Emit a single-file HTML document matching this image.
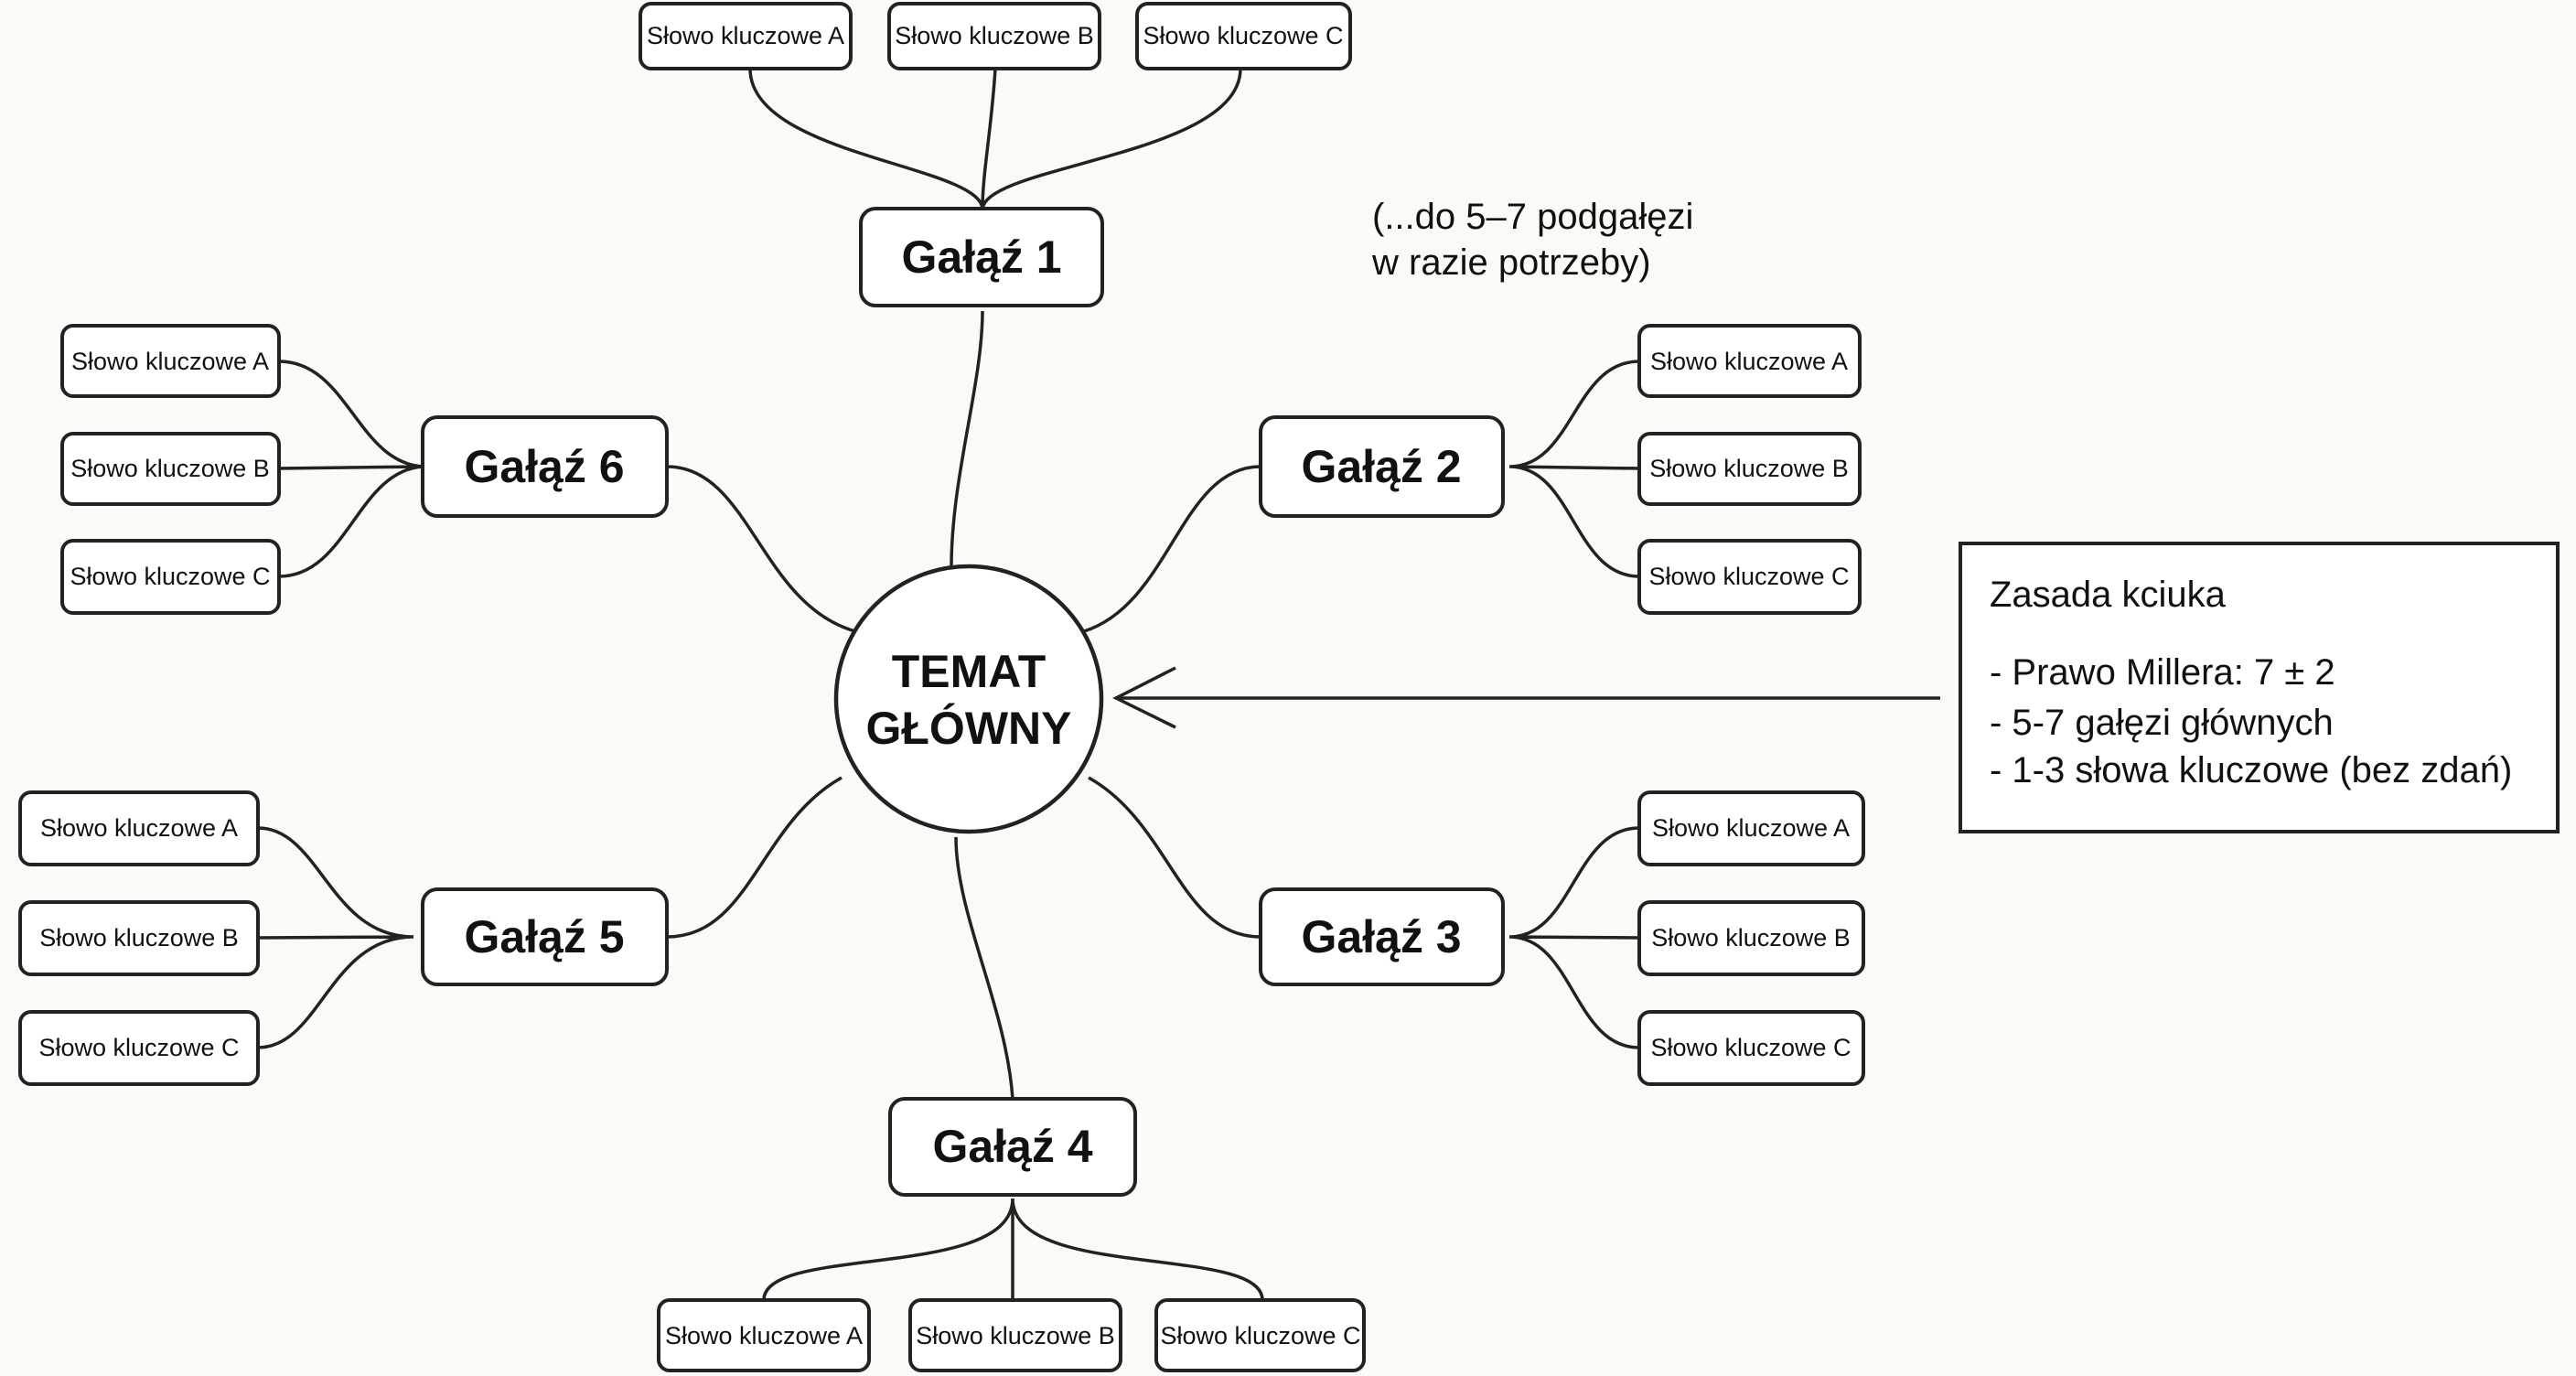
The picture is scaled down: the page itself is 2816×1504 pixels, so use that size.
<!DOCTYPE html>
<html><head><meta charset="utf-8"><style>
html,body{margin:0;padding:0;background:#fafaf7;}
svg{display:block}
text{font-family:"Liberation Sans","DejaVu Sans",sans-serif;fill:#111;}
.k{font-size:27px;text-anchor:middle;dominant-baseline:central}
.g{font-size:50px;font-weight:bold;text-anchor:middle;dominant-baseline:central}
.n{font-size:40px}
rect{fill:#fff;stroke:#222;stroke-width:4}
path{fill:none;stroke:#222;stroke-width:3.5}
</style></head><body>
<svg width="2816" height="1504" viewBox="0 0 2816 1504">
<!-- connectors -->
<path d="M820 75 C820 170 1070 180 1074 228 M1088 75 C1084 140 1074 190 1074 228 M1356 75 C1356 170 1080 180 1074 228"/>
<path d="M1074 340 C1074 420 1040 520 1040 620"/>
<!-- G6 -->
<path d="M305 395 C380 395 390 505 462 510 M305 512 L462 510 M305 630 C380 630 390 515 462 510"/>
<path d="M729 510 C820 510 830 660 935 690"/>
<!-- G2 -->
<path d="M1650 510 C1720 510 1720 395 1792 395 M1650 510 L1792 512 M1650 510 C1720 510 1720 630 1792 630"/>
<path d="M1378 510 C1290 510 1280 660 1185 690"/>
<!-- G5 -->
<path d="M282 905 C350 905 360 1024 452 1024 M282 1025 L452 1024 M282 1145 C350 1145 360 1024 452 1024"/>
<path d="M729 1024 C820 1024 830 900 920 850"/>
<!-- G3 -->
<path d="M1650 1024 C1720 1024 1720 905 1792 905 M1650 1024 L1792 1025 M1650 1024 C1720 1024 1720 1145 1792 1145"/>
<path d="M1378 1024 C1290 1024 1280 900 1190 850"/>
<!-- G4 -->
<path d="M1045 915 C1045 1000 1100 1100 1107 1201"/>
<path d="M1107 1310 C1107 1400 835 1360 835 1421 M1107 1310 L1107 1421 M1107 1310 C1107 1400 1380 1360 1380 1421"/>
<!-- arrow -->
<path d="M2121 763 L1222 763 M1285 730 L1220 763 L1285 795" stroke-width="4"/>
<!-- circle -->
<circle cx="1059" cy="764" r="145" fill="#fff" stroke="#222" stroke-width="4.5"/>
<text class="g" x="1059" y="734">TEMAT</text>
<text class="g" x="1059" y="796">GŁÓWNY</text>
<!-- branches -->
<rect x="941" y="228" width="264" height="106" rx="16"/><text class="g" x="1073" y="281">Gałąź 1</text>
<rect x="1378" y="456" width="265" height="108" rx="16"/><text class="g" x="1510" y="510">Gałąź 2</text>
<rect x="1378" y="972" width="265" height="104" rx="16"/><text class="g" x="1510" y="1024">Gałąź 3</text>
<rect x="973" y="1201" width="268" height="105" rx="16"/><text class="g" x="1107" y="1253">Gałąź 4</text>
<rect x="462" y="972" width="267" height="104" rx="16"/><text class="g" x="595" y="1024">Gałąź 5</text>
<rect x="462" y="456" width="267" height="108" rx="16"/><text class="g" x="595" y="510">Gałąź 6</text>
<!-- keywords top -->
<rect x="700" y="4" width="230" height="71" rx="12"/><text class="k" x="815" y="39">Słowo kluczowe A</text>
<rect x="972" y="4" width="230" height="71" rx="12"/><text class="k" x="1087" y="39">Słowo kluczowe B</text>
<rect x="1243" y="4" width="233" height="71" rx="12"/><text class="k" x="1359" y="39">Słowo kluczowe C</text>
<!-- G6 keywords -->
<rect x="68" y="356" width="237" height="77" rx="12"/><text class="k" x="186" y="395">Słowo kluczowe A</text>
<rect x="68" y="474" width="237" height="77" rx="12"/><text class="k" x="186" y="512">Słowo kluczowe B</text>
<rect x="68" y="591" width="237" height="79" rx="12"/><text class="k" x="186" y="630">Słowo kluczowe C</text>
<!-- G2 keywords -->
<rect x="1792" y="356" width="241" height="77" rx="12"/><text class="k" x="1912" y="395">Słowo kluczowe A</text>
<rect x="1792" y="474" width="241" height="77" rx="12"/><text class="k" x="1912" y="512">Słowo kluczowe B</text>
<rect x="1792" y="591" width="241" height="79" rx="12"/><text class="k" x="1912" y="630">Słowo kluczowe C</text>
<!-- G5 keywords -->
<rect x="22" y="866" width="260" height="79" rx="12"/><text class="k" x="152" y="905">Słowo kluczowe A</text>
<rect x="22" y="986" width="260" height="79" rx="12"/><text class="k" x="152" y="1025">Słowo kluczowe B</text>
<rect x="22" y="1106" width="260" height="79" rx="12"/><text class="k" x="152" y="1145">Słowo kluczowe C</text>
<!-- G3 keywords -->
<rect x="1792" y="866" width="245" height="79" rx="12"/><text class="k" x="1914" y="905">Słowo kluczowe A</text>
<rect x="1792" y="986" width="245" height="79" rx="12"/><text class="k" x="1914" y="1025">Słowo kluczowe B</text>
<rect x="1792" y="1106" width="245" height="79" rx="12"/><text class="k" x="1914" y="1145">Słowo kluczowe C</text>
<!-- G4 keywords -->
<rect x="720" y="1421" width="230" height="77" rx="12"/><text class="k" x="835" y="1460">Słowo kluczowe A</text>
<rect x="995" y="1421" width="230" height="77" rx="12"/><text class="k" x="1110" y="1460">Słowo kluczowe B</text>
<rect x="1264" y="1421" width="227" height="77" rx="12"/><text class="k" x="1378" y="1460">Słowo kluczowe C</text>
<!-- note -->
<text class="n" x="1500" y="250">(...do 5–7 podgałęzi</text>
<text class="n" x="1500" y="300">w razie potrzeby)</text>
<!-- info box -->
<rect x="2143" y="594" width="653" height="315" rx="0" stroke-width="4"/>
<text class="n" x="2175" y="663">Zasada kciuka</text>
<text class="n" x="2175" y="748">- Prawo Millera: 7 ± 2</text>
<text class="n" x="2175" y="803">- 5-7 gałęzi głównych</text>
<text class="n" x="2175" y="855">- 1-3 słowa kluczowe (bez zdań)</text>
</svg>
</body></html>
